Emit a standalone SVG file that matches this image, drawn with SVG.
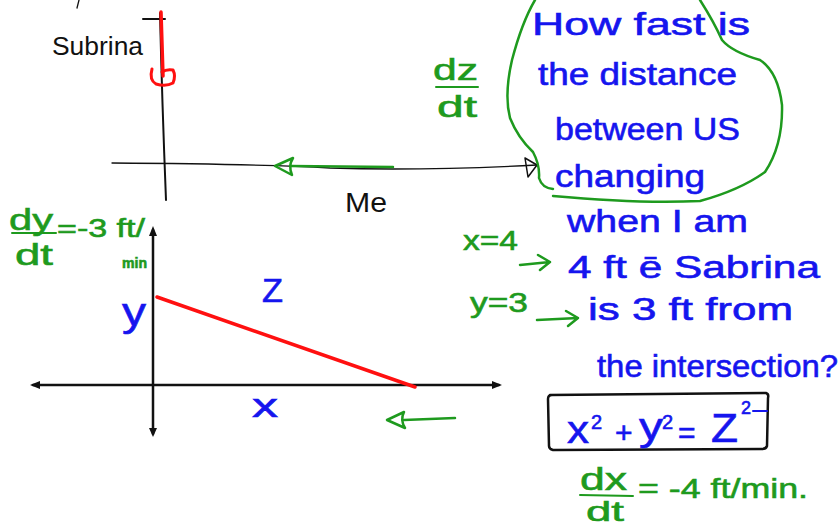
<svg xmlns="http://www.w3.org/2000/svg" width="839" height="528" viewBox="0 0 839 528">
<style>
.ink{fill:none;stroke-linecap:round;stroke-linejoin:round}
.k{stroke:#111}
.g{stroke:#1e9a1e}
.r{stroke:#ff1010}
.tb{font-family:"Liberation Sans","DejaVu Sans",sans-serif;fill:#1515ee;stroke:#1515ee;stroke-width:0.6}
.tg{font-family:"Liberation Sans","DejaVu Sans",sans-serif;fill:#1e9a1e;stroke:#1e9a1e;stroke-width:0.6}
.tk{font-family:"Liberation Sans","DejaVu Sans",sans-serif;fill:#111}
</style>
<rect width="839" height="528" fill="#fff"/>

<!-- top sketch -->
<g id="top-sketch">
  <path class="ink k" stroke-width="1.3" d="M79,0 L77,8"/>
  <path class="ink k" stroke-width="2" d="M143,19 L165,19 M160,13 Q162,100 166,200"/>
  <path class="ink r" stroke-width="3.5" d="M161,12 L163,76"/>
  <path class="ink r" stroke-width="3" d="M152,69 Q149,80 156,84 Q166,87 173,83 Q176,76 173,70 Q166,69 162,72"/>
  <text class="tk" x="52" y="55" font-size="26" textLength="91" lengthAdjust="spacingAndGlyphs">Subrina</text>
  <path class="ink k" stroke-width="1.3" d="M112,163 Q260,164 330,168 Q420,171 537,165"/>
  <path class="ink k" stroke-width="1.5" d="M525,158 L537,165 L528,177 Z"/>
  <path class="ink g" stroke-width="2.5" d="M393,167 L290,166"/>
  <path class="ink g" stroke-width="2.5" d="M293,158 L275,166 L292,175 Q288,166 293,158"/>
  <text class="tk" x="345" y="212" font-size="28" textLength="42" lengthAdjust="spacingAndGlyphs">Me</text>
</g>

<!-- dz/dt -->
<g id="dzdt">
  <text class="tg" x="433" y="80" font-size="30" textLength="45" lengthAdjust="spacingAndGlyphs">dz</text>
  <path class="ink g" stroke-width="2" d="M436,87 L478,87"/>
  <text class="tg" x="437" y="117" font-size="30" textLength="40" lengthAdjust="spacingAndGlyphs">dt</text>
</g>

<!-- question cloud -->
<g id="question">
  <path class="ink g" stroke-width="2.5" d="M535,0 Q522,22 512,60 Q504,95 510,118 Q518,138 533,152 Q540,165 539,178 Q542,188 553,189"/>
  <path class="ink g" stroke-width="2.5" d="M700,0 Q714,22 722,40 Q732,52 760,60 Q778,72 782,105 Q783,145 765,172 Q740,190 700,201 Q640,204 553,196"/>
  <text class="tb" x="532" y="35" font-size="31" textLength="218" lengthAdjust="spacingAndGlyphs">How fast is</text>
  <text class="tb" x="538" y="85" font-size="31" textLength="199" lengthAdjust="spacingAndGlyphs">the distance</text>
  <text class="tb" x="555" y="140" font-size="31" textLength="185" lengthAdjust="spacingAndGlyphs">between US</text>
  <text class="tb" x="555" y="187" font-size="31" textLength="150" lengthAdjust="spacingAndGlyphs">changing</text>
  <text class="tb" x="567" y="232" font-size="31" textLength="181" lengthAdjust="spacingAndGlyphs">when I am</text>
  <text class="tb" x="568" y="278" font-size="31" textLength="252" lengthAdjust="spacingAndGlyphs">4 ft ē Sabrina</text>
  <text class="tb" x="588" y="320" font-size="31" textLength="205" lengthAdjust="spacingAndGlyphs">is 3 ft from</text>
  <text class="tb" x="597" y="377" font-size="31" textLength="241" lengthAdjust="spacingAndGlyphs">the intersection?</text>
</g>

<!-- given values -->
<g id="given">
  <text class="tg" x="463" y="250" font-size="28" textLength="55" lengthAdjust="spacingAndGlyphs">x=4</text>
  <path class="ink g" stroke-width="2.5" d="M520,265 L550,262 M538,255 L550,262 L540,270"/>
  <text class="tg" x="470" y="312" font-size="28" textLength="58" lengthAdjust="spacingAndGlyphs">y=3</text>
  <path class="ink g" stroke-width="2.5" d="M537,320 L578,318 M566,311 L578,318 L568,326"/>
</g>

<!-- dy/dt -->
<g id="dydt">
  <text class="tg" x="9" y="230" font-size="30" textLength="44" lengthAdjust="spacingAndGlyphs">dy</text>
  <path class="ink g" stroke-width="2" d="M12,233 L56,233"/>
  <text class="tg" x="15" y="265" font-size="30" textLength="38" lengthAdjust="spacingAndGlyphs">dt</text>
  <text class="tg" x="57" y="237" font-size="26" textLength="88" lengthAdjust="spacingAndGlyphs">=-3 ft/</text>
  <text class="tg" x="122" y="268" font-size="14" font-weight="bold" textLength="25" lengthAdjust="spacingAndGlyphs">min</text>
</g>

<!-- lower graph -->
<g id="graph">
  <path class="ink k" stroke-width="2.5" d="M153,230 L153,434 M33,385 L499,385"/>
  <path fill="#111" d="M153,226 L149,236 L157,236 Z M153,437 L149,428 L157,428 Z M30,385 L40,381 L40,389 Z M502,385 L492,381 L492,389 Z"/>
  <path class="ink r" stroke-width="3.5" d="M157,297 L415,387"/>
  <text class="tb" x="262" y="302" font-size="34" textLength="21" lengthAdjust="spacingAndGlyphs">Z</text>
  <text class="tb" x="122" y="326" font-size="40" textLength="24" lengthAdjust="spacingAndGlyphs">y</text>
  <text class="tb" x="252" y="417" font-size="34" textLength="26" lengthAdjust="spacingAndGlyphs">x</text>
  <path class="ink g" stroke-width="2.5" d="M455,418 L404,420"/>
  <path class="ink g" stroke-width="2.5" d="M404,412 L387,420 L405,428 Q400,420 404,412"/>
</g>

<!-- equation -->
<g id="equation">
  <path class="ink k" stroke-width="2.5" d="M550,395 L766,393 Q769,394 768,398 L767,446 Q766,449 762,449 L553,450 Q549,449 549,446 L548,399 Q548,395 552,395"/>
  <text class="tb" x="567" y="443" font-size="38" textLength="22" lengthAdjust="spacingAndGlyphs">x</text>
  <text class="tb" x="591" y="429" font-size="20">2</text>
  <text class="tb" x="615" y="443" font-size="30">+</text>
  <text class="tb" x="639" y="440" font-size="38" textLength="24" lengthAdjust="spacingAndGlyphs">y</text>
  <text class="tb" x="662" y="429" font-size="20">2</text>
  <text class="tb" x="678" y="443" font-size="30">=</text>
  <text class="tb" x="711" y="442" font-size="40" textLength="27" lengthAdjust="spacingAndGlyphs">Z</text>
  <text class="tb" x="741" y="414" font-size="18">2</text>
  <path class="ink" stroke="#1515ee" stroke-width="2" d="M753,411 L767,411"/>
</g>

<!-- dx/dt -->
<g id="dxdt">
  <text class="tg" x="580" y="490" font-size="32" textLength="47" lengthAdjust="spacingAndGlyphs">dx</text>
  <path class="ink g" stroke-width="2" d="M580,495 L633,496"/>
  <text class="tg" x="586" y="521" font-size="28" textLength="38" lengthAdjust="spacingAndGlyphs">dt</text>
  <text class="tg" x="638" y="498" font-size="28" textLength="170" lengthAdjust="spacingAndGlyphs">= -4 ft/min.</text>
</g>
</svg>
